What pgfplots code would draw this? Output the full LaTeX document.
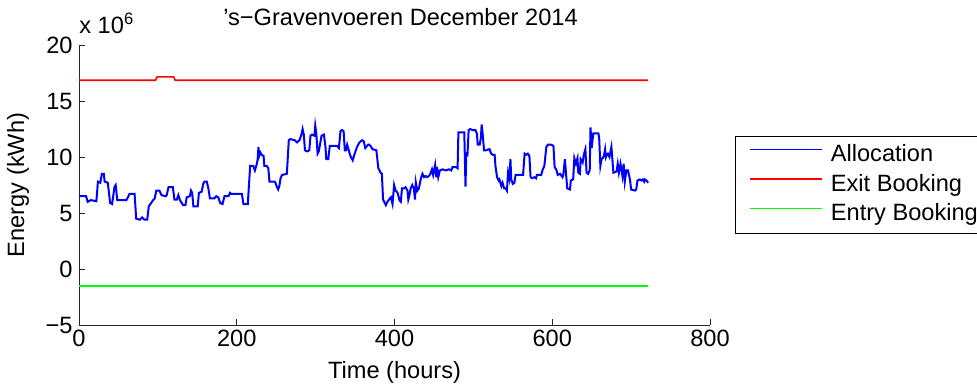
\documentclass[border=0pt]{standalone}
\usepackage{pgfplots}
\pgfplotsset{compat=1.18}
\usepackage{pgfplotstable}
\usepackage{fontspec}
\setmainfont{Liberation Sans}

\definecolor{allocblue}{rgb}{0,0,1}
\definecolor{exitred}{rgb}{1,0,0}
\definecolor{entrygreen}{rgb}{0,1,0}

% straight legend sample, a little longer than the default one
\pgfplotsset{long line legend/.style={legend image code/.code={\draw[##1] (0bp,3bp) -- (36bp,3bp);}}}

% Hourly allocation (units of 10^6 kWh)
\pgfplotstableread{
x y
0 6.5
9 6.5
11 6.0
15 6.15
22 6.05
24 7.8
27 7.7
29 8.5
31.5 8.5
32.5 7.8
36.5 7.7
39.5 5.9
42 5.8
45 7.35
46.5 7.5
48.5 6.15
60 6.15
62 6.4
64 6.7
70.5 6.7
72.5 4.5
77 4.4
80 4.6
83 4.4
86.5 4.4
88.5 5.6
90.5 5.8
94 6.15
96 6.3
98 7.0
102 7.0
104.5 6.6
109.5 6.5
111 6.55
113.5 7.3
119 7.3
121 6.2
124 6.2
126 6.6
128 6.15
132 5.7
135 5.7
136.5 6.4
140.5 6.5
142 7.0
143.5 6.8
145 5.6
150.5 5.6
152 6.8
155.5 6.9
157.5 7.6
159 7.8
162 7.8
164 7.2
166 6.3
171.5 6.3
174 6.5
176.5 6.4
179 5.9
182 5.8
184.5 6.5
189.5 6.5
191.5 6.8
193 6.7
206.5 6.7
208.5 5.8
214 5.8
215.5 7.5
217 9.2
221 9.2
223 8.8
225.5 9.4
226.5 9.8
227.5 10.9
228.5 10.1
230 10.4
231.5 10.2
234 10.1
235 9.2
238 9.2
240 9.0
241.5 7.8
248 7.8
249 7.7
250.5 7.4
252.5 7.1
254 7.4
255.5 8.1
257.5 8.4
263.5 8.5
266 11.5
268 11.6
273.5 11.5
276.5 11.3
279.5 11.5
282 12.0
283.5 12.5
285 12.0
286.5 10.6
289.5 10.5
292 10.6
293.5 11.9
295.5 12.0
298.5 11.9
299.5 12.8
301 12.0
302.5 10.3
304 10.5
307.5 11.9
310.5 12.0
312.5 10.9
313.5 9.8
316 9.8
318 11.0
321 11.0
327 11.0
329.5 10.8
331.5 12.3
333.5 12.4
335.5 12.3
337 10.6
338.5 10.6
340 11.1
342 10.6
344 10.1
347 9.7
349.5 10.3
352.5 10.9
355.5 11.3
359 11.5
361 11.4
363 10.8
366.5 11.1
368 11.1
370.5 10.9
372 10.7
377 10.6
379.5 9.0
382.5 8.6
384 8.5
385.5 6.2
389 5.7
391 6.0
393 6.2
395.5 6.4
397.5 5.8
399.5 7.5
401.5 7.0
404 6.8
406.5 6.1
408 6.0
409.5 7.2
412 7.2
414 7.3
416.5 7.0
417.5 6.2
419 6.6
420.5 7.2
422.5 7.5
424.5 7.2
426 6.2
427 7.75
429 7.0
431 7.2
433.5 8.1
435.5 8.5
437.5 8.2
439.5 8.3
441.5 8.2
443.5 8.3
445.5 8.5
447.5 8.9
449 8.4
451.5 9.3
453 8.2
454 9.1
455.5 8.2
457.5 8.8
461 8.9
465 8.8
469 8.9
472 8.8
473.5 9.1
478 9.1
480 9.0
481 12.2
487 12.2
488.5 12.2
490 7.35
491 10.3
492.5 10.2
494 12.4
496 12.5
499 12.4
502.5 12.4
504.5 12.1
505.5 11.1
508 11.1
509.5 11.7
510.5 12.9
512 11.9
513.5 10.6
516 10.6
518 10.65
520.5 10.7
522.5 10.3
524.5 10.2
527 10.2
528 9.2
530 8.2
532 7.9
533 8.0
535.5 7.4
537 7.7
539 7.2
541 7.2
542.5 7.0
544 8.6
545.5 8.1
547 9.8
548 8.0
550 7.6
552 7.7
553.5 8.4
560.5 8.4
563 8.4
565 10.3
567 10.2
569 10.3
571 10.1
572.5 8.2
574.5 8.1
577.5 8.2
579.5 8.1
580.5 8.4
586 8.4
588 8.9
590 9.2
592.5 10.9
594.5 11.1
598.5 11.1
601.5 11.0
603 9.1
605 8.9
607 8.4
610 8.5
613 8.2
614 8.4
616 9.8
617.5 8.5
619 7.2
622.5 7.1
623.5 7.9
626.5 8.0
628 9.9
630 9.4
632 9.9
633 8.6
635 8.5
636 9.8
638.5 9.5
640 10.2
642 10.7
643.5 8.6
645.5 8.5
647.5 8.8
648.5 12.65
650 10.8
652 12.1
658.5 12.1
659.5 11.7
661 9.2
662.5 9.8
664 9.9
665.5 10.1
667 10.7
668 10.0
669 10.2
670.5 10.3
672.5 10.0
675 10.9
676 10.0
677.5 8.6
681.5 8.7
683 9.4
684.5 8.6
686.5 9.4
689 8.3
690.5 9.4
692 7.8
694 8.8
696 8.8
698.5 8.0
700 7.1
705 7.0
706.5 7.1
708 7.9
711 8.0
713 7.9
715 8.0
716.5 7.8
717.5 8.0
719.5 7.9
721.5 7.7
}\allocation

% Exit booking capacity
\pgfplotstableread{
x y
0 16.85
97 16.85
99 17.15
120 17.15
122 16.85
721.5 16.85
}\exitbooking

% Entry booking capacity
\pgfplotstableread{
x y
0 -1.5
721.5 -1.5
}\entrybooking

\begin{document}
\fontsize{11.8bp}{14bp}\selectfont
\begin{tikzpicture}
\begin{axis}[
  scale only axis,
  width=315.5bp, height=140bp,
  xmin=0, xmax=800, ymin=-5, ymax=20,
  axis lines=left,
  axis line style={-, line width=0.5bp, black!85},
  tick style={line width=0.5bp, black!85},
  major tick length=3bp,
  tick align=inside,
  xtick={0,200,400,600,800},
  xticklabels={0,200,400,600,800},
  ytick={-5,0,5,10,15,20},
  yticklabels={−5,0,5,10,15,20},
  xticklabel style={inner sep=2.5bp},
  yticklabel style={inner sep=3bp},
  xlabel={Time (hours)},
  ylabel={Energy (kWh)},
  xlabel style={at={(axis description cs:0.5,0)}, anchor=center, yshift=-23.5bp},
  ylabel style={at={(axis description cs:-0.0967,0.5)}, anchor=center},
  long line legend,
  legend style={
    at={(axis description cs:1,0.5)}, anchor=west, xshift=12.5bp,
    draw=none, fill=none,
    inner xsep=7bp, inner ysep=3.5bp,
    row sep=2.75bp, column sep=4bp,
    nodes={inner sep=0bp, text height=9bp, text depth=3bp},
    cells={anchor=west},
  },
]
\addplot[draw=allocblue, line width=1bp, no marks, forget plot] table {\allocation};
\addplot[draw=exitred, line width=0.8bp, no marks, forget plot] table {\exitbooking};
\addplot[draw=entrygreen, line width=0.8bp, no marks, forget plot] table {\entrybooking};
\addlegendimage{color=allocblue, draw=allocblue, line width=0.75bp}
\addlegendentry{Allocation}
\addlegendimage{color=exitred, draw=exitred, line width=0.75bp}
\addlegendentry{Exit Booking}
\addlegendimage{color=entrygreen, draw=entrygreen, line width=0.75bp}
\addlegendentry{Entry Booking}
\coordinate (bl) at (rel axis cs:0,0);
\coordinate (tl) at (rel axis cs:0,1);
\coordinate (tc) at (rel axis cs:0.5,1);
\coordinate (tr) at (rel axis cs:1,1);
\coordinate (mr) at (rel axis cs:1,0.5);
\end{axis}
% legend frame (runs on past the right edge of the page)
\draw[black, line width=0.5bp] ([xshift=12.5bp,yshift=-24.25bp]mr) rectangle ([xshift=220bp,yshift=24.25bp]mr);
% plot title and y-axis scale factor
\node[anchor=base, inner sep=0bp] at ([xshift=3bp,yshift=10bp]tc) {’s−Gravenvoeren December 2014};
\node[anchor=base west, inner sep=0bp] at ([yshift=6bp]tl) {x 10\textsuperscript{6}};
\pgfresetboundingbox
\path ([xshift=-39.5bp,yshift=-31.5bp]bl) rectangle ([xshift=133.5bp,yshift=22.5bp]tr);
\end{tikzpicture}
\end{document}
